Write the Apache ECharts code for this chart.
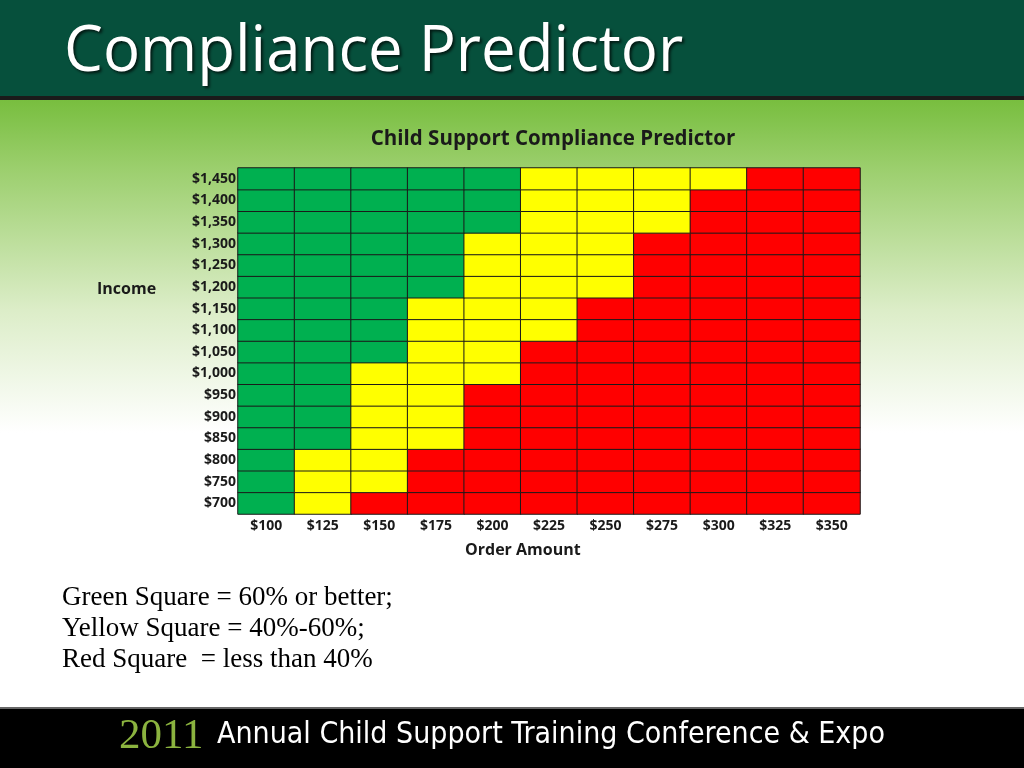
<!DOCTYPE html>
<html>
<head>
<meta charset="utf-8">
<script src="https://cdn.jsdelivr.net/npm/echarts@6/dist/echarts.min.js"></script>
<style>html,body{margin:0;padding:0;}#c{width:1024px;height:768px;}</style>
</head>
<body>
<div id="c"></div>
<script>
// Order amounts (x categories)
const orderAmounts = ['$100','$125','$150','$175','$200','$225','$250','$275','$300','$325','$350'];
// Income levels (y categories, bottom to top)
const incomes = ['$700','$750','$800','$850','$900','$950','$1,000','$1,050','$1,100','$1,150','$1,200','$1,250','$1,300','$1,350','$1,400','$1,450'];
// Compliance level per cell: 2 = green (60%+), 1 = yellow (40-60%), 0 = red (<40%)
// one array per income row, ordered $100 .. $350
const row700  = [2,1,0,0,0,0,0,0,0,0,0];
const row750  = [2,1,1,0,0,0,0,0,0,0,0];
const row800  = [2,1,1,0,0,0,0,0,0,0,0];
const row850  = [2,2,1,1,0,0,0,0,0,0,0];
const row900  = [2,2,1,1,0,0,0,0,0,0,0];
const row950  = [2,2,1,1,0,0,0,0,0,0,0];
const row1000 = [2,2,1,1,1,0,0,0,0,0,0];
const row1050 = [2,2,2,1,1,0,0,0,0,0,0];
const row1100 = [2,2,2,1,1,1,0,0,0,0,0];
const row1150 = [2,2,2,1,1,1,0,0,0,0,0];
const row1200 = [2,2,2,2,1,1,1,0,0,0,0];
const row1250 = [2,2,2,2,1,1,1,0,0,0,0];
const row1300 = [2,2,2,2,1,1,1,0,0,0,0];
const row1350 = [2,2,2,2,2,1,1,1,0,0,0];
const row1400 = [2,2,2,2,2,1,1,1,0,0,0];
const row1450 = [2,2,2,2,2,1,1,1,1,0,0];
const levelRows = [row700,row750,row800,row850,row900,row950,row1000,row1050,row1100,row1150,row1200,row1250,row1300,row1350,row1400,row1450];
const legendLines = ['Green Square = 60% or better;','Yellow Square = 40%-60%;','Red Square  = less than 40%'];

const data = [];
levelRows.forEach((row, yi) => row.forEach((v, xi) => data.push([xi, yi, v])));

const chart = echarts.init(document.getElementById('c'));
chart.setOption({
  animation: false,
  backgroundColor: '#ffffff',
  graphic: [
    {type:'rect', z:-10, shape:{x:0,y:96,width:1024,height:612},
     style:{fill:new echarts.graphic.LinearGradient(0,0,0,1,[
       {offset:0,color:'#76bd3c'},{offset:0.12,color:'#9ccf6e'},{offset:0.35,color:'#dcedc8'},{offset:0.55,color:'#ffffff'},{offset:1,color:'#ffffff'}])}},
    {type:'rect', z:-9, shape:{x:0,y:0,width:1024,height:96}, style:{fill:'#06503c'}},
    {type:'rect', z:-9, shape:{x:0,y:96,width:1024,height:4}, style:{fill:'#1a1a1a'}},
    {type:'text', z:5, x:64, y:21, scaleX:0.965, style:{text:'Compliance Predictor', fill:'#ffffff',
      font:'64px "Open Sans", sans-serif', textShadowColor:'rgba(0,0,0,0.7)', textShadowBlur:3, textShadowOffsetX:2, textShadowOffsetY:2}},
    {type:'text', z:5, left:97, top:281, style:{text:'Income', fill:'#1a1a1a', font:'bold 16px "Open Sans", sans-serif'}},
    {type:'text', z:5, left:465, top:542, style:{text:'Order Amount', fill:'#1a1a1a', font:'bold 16px "Open Sans", sans-serif'}},
    {type:'text', z:5, left:62, top:582, style:{text:legendLines.join('\n'), fill:'#000000', lineHeight:31,
      font:'27px "Liberation Serif", serif'}},
    {type:'rect', z:-9, shape:{x:0,y:707,width:1024,height:2}, style:{fill:'#666666'}},
    {type:'rect', z:-9, shape:{x:0,y:709,width:1024,height:59}, style:{fill:'#000000'}},
    {type:'text', z:5, left:119, top:715, style:{text:'2011', fill:'#8bb33f', font:'43px "Liberation Serif", serif'}},
    {type:'text', z:5, left:217, top:720, style:{text:'Annual Child Support Training Conference & Expo', fill:'#ffffff', font:'30px "Liberation Sans Narrow", "DejaVu Sans Condensed", sans-serif'}}
  ],
  title: {
    text: 'Child Support Compliance Predictor',
    left: 548, top: 124, textAlign: 'center',
    textStyle: {fontSize: 20.5, fontWeight: 'bold', color: '#1a1a1a', fontFamily: '"Open Sans", sans-serif'}
  },
  grid: {left: 238, right: 164, top: 168, bottom: 254},
  xAxis: {
    type: 'category', data: orderAmounts,
    axisLine: {show: false}, axisTick: {show: false}, splitArea: {show: false},
    axisLabel: {fontSize: 14, fontWeight: 'bold', color: '#1a1a1a', margin: 5, fontFamily: '"Open Sans", sans-serif'}
  },
  yAxis: {
    type: 'category', data: incomes,
    axisLine: {show: false}, axisTick: {show: false}, splitArea: {show: false},
    axisLabel: {fontSize: 14, fontWeight: 'bold', color: '#1a1a1a', margin: 2, fontFamily: '"Open Sans", sans-serif'}
  },
  visualMap: {
    show: false, type: 'piecewise', dimension: 2,
    pieces: [
      {value: 0, color: '#ff0000'},
      {value: 1, color: '#ffff00'},
      {value: 2, color: '#00b050'}
    ]
  },
  series: [{
    type: 'heatmap', data: data,
    itemStyle: {borderColor: '#1a1a1a', borderWidth: 1},
    emphasis: {disabled: true}
  }]
});
</script>
</body>
</html>
